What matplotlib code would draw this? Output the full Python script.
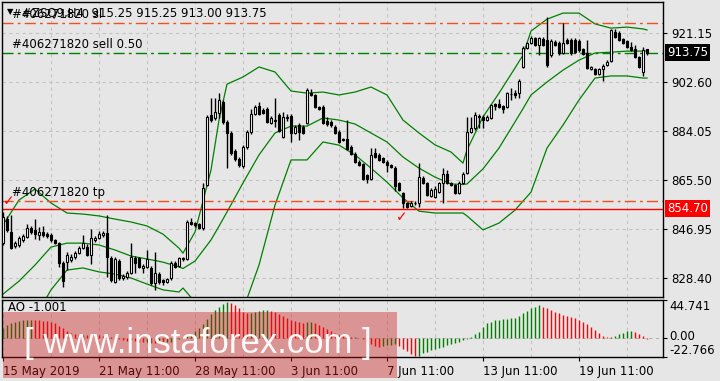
import matplotlib
matplotlib.use("Agg")
import matplotlib.pyplot as plt
from matplotlib.patches import Rectangle
import numpy as np

# #ZSQ9 H4 candles (15 May - 21 Jun 2019)
opens = [841.6, 850.7, 845.8, 840.5, 840.8, 842.8, 843.9, 847.3, 846.5, 844.8,
         845.8, 845.0, 844.6, 842.8, 841.6, 834.0, 834.4, 835.2, 836.3, 837.8,
         839.7, 840.1, 837.1, 842.8, 843.5, 844.6, 845.4, 835.9, 826.9, 834.8,
         828.4, 828.8, 830.3, 835.9, 835.9, 832.1, 832.5, 832.1, 826.5, 829.9,
         827.6, 826.9, 828.4, 834.0, 832.9, 835.9, 835.5, 849.6, 849.2, 848.8,
         847.3, 863.6, 890.1, 889.0, 890.9, 895.0, 887.5, 883.3, 876.5, 873.4,
         870.8, 878.0, 883.7, 890.5, 893.5, 892.0, 892.4, 887.1, 888.2, 890.1,
         881.8, 889.4, 889.7, 883.3, 886.3, 885.6, 887.1, 898.4, 897.7, 893.1,
         893.1, 887.8, 887.5, 885.6, 883.7, 881.0, 881.0, 878.0, 875.3, 872.3,
         871.6, 867.4, 865.9, 875.7, 875.0, 873.8, 872.3, 871.2, 870.0, 864.4,
         860.6, 856.8, 855.7, 856.8, 856.8, 866.3, 864.4, 859.4, 859.1, 860.9,
         864.4, 867.8, 864.4, 863.6, 860.6, 864.4, 868.2, 883.7, 885.2, 889.7,
         889.4, 888.2, 889.0, 894.3, 894.3, 893.5, 893.1, 898.1, 898.4, 898.4,
         908.3, 915.5, 917.4, 919.3, 916.6, 918.9, 918.5, 912.8, 917.7, 917.4,
         913.6, 918.5, 918.5, 918.5, 918.1, 915.1, 913.6, 907.5, 907.5, 905.6,
         907.5, 909.0, 910.5, 921.5, 921.2, 918.9, 918.1, 915.8, 915.1, 912.1,
         906.4, 915.25]
highs = [853.4, 851.8, 852.2, 842.4, 844.3, 845.0, 848.8, 848.0, 850.7, 847.7,
         848.0, 845.8, 845.4, 843.1, 842.0, 834.8, 838.2, 837.5, 838.6, 840.5,
         844.6, 841.2, 846.9, 844.3, 846.2, 846.2, 852.2, 836.7, 836.3, 835.5,
         829.9, 831.0, 841.6, 836.7, 836.3, 833.6, 839.0, 832.9, 838.2, 830.6,
         828.0, 828.4, 834.8, 834.8, 836.3, 836.3, 850.3, 851.0, 849.6, 849.2,
         864.4, 890.1, 896.5, 896.5, 898.4, 895.8, 888.2, 884.1, 877.2, 874.2,
         878.8, 884.4, 892.4, 893.9, 895.0, 892.8, 893.1, 889.7, 896.5, 890.9,
         891.2, 890.5, 890.5, 886.3, 887.1, 886.3, 900.3, 900.0, 898.1, 893.5,
         893.9, 889.4, 888.2, 886.3, 884.4, 881.4, 888.2, 878.8, 876.1, 873.1,
         871.9, 867.8, 877.6, 877.6, 875.7, 874.2, 873.1, 871.6, 870.8, 864.7,
         861.0, 857.2, 857.5, 857.5, 871.9, 867.0, 864.7, 862.5, 863.2, 864.7,
         870.0, 869.3, 864.7, 864.0, 865.1, 868.5, 889.4, 889.4, 891.2, 890.5,
         890.1, 890.1, 894.3, 894.7, 896.2, 893.9, 898.8, 900.3, 899.6, 903.7,
         916.2, 917.7, 920.0, 919.6, 919.6, 919.6, 927.2, 918.9, 918.5, 918.1,
         924.9, 919.3, 919.3, 919.3, 918.9, 915.5, 918.5, 908.7, 907.9, 907.9,
         909.4, 910.9, 922.7, 922.7, 921.9, 919.3, 918.5, 917.7, 916.6, 912.4,
         915.8, 915.25]
lows = [840.8, 845.8, 839.3, 839.7, 840.1, 842.0, 843.5, 845.0, 843.1, 842.8,
        844.0, 843.5, 842.0, 841.2, 832.5, 825.0, 831.4, 834.4, 835.5, 837.5,
        839.3, 836.7, 833.6, 842.0, 843.1, 844.0, 828.8, 826.9, 826.5, 827.6,
        827.6, 828.0, 829.9, 830.3, 832.1, 830.3, 832.1, 825.7, 823.9, 826.1,
        825.7, 826.5, 827.6, 832.1, 832.5, 834.8, 835.1, 848.4, 847.7, 846.9,
        846.5, 863.2, 887.5, 888.2, 889.0, 886.7, 870.0, 875.0, 872.7, 870.4,
        870.0, 877.2, 882.9, 890.1, 890.1, 890.5, 887.1, 886.7, 885.6, 883.7,
        881.4, 887.8, 879.9, 882.9, 880.6, 882.9, 886.7, 897.3, 892.8, 892.0,
        886.7, 885.9, 885.6, 882.9, 879.5, 880.3, 876.9, 875.0, 871.9, 870.8,
        865.5, 864.4, 865.5, 873.8, 872.7, 871.9, 868.5, 870.0, 861.3, 861.3,
        854.9, 854.9, 855.3, 856.0, 855.3, 864.0, 859.4, 859.1, 858.7, 860.6,
        856.8, 864.0, 863.2, 860.2, 860.2, 864.0, 867.8, 883.3, 884.4, 885.2,
        885.2, 887.8, 888.6, 892.0, 892.8, 890.9, 892.8, 895.8, 896.5, 896.5,
        907.9, 915.1, 917.0, 916.2, 912.8, 916.2, 908.3, 912.1, 916.2, 912.8,
        913.2, 917.0, 912.8, 913.6, 914.0, 912.8, 907.5, 907.1, 905.3, 905.3,
        903.0, 908.7, 910.2, 919.3, 918.1, 917.0, 915.5, 914.3, 911.7, 907.9,
        904.9, 913.00]
closes = [851.4, 846.5, 839.7, 841.6, 843.5, 844.3, 847.3, 845.8, 845.0, 845.8,
          844.6, 844.3, 842.8, 841.6, 834.0, 827.2, 837.1, 836.3, 837.8, 839.7,
          841.6, 837.1, 843.5, 843.5, 845.0, 845.4, 836.3, 827.6, 835.5, 828.4,
          829.1, 830.3, 836.3, 834.0, 832.5, 832.9, 835.5, 826.5, 830.3, 826.9,
          826.9, 828.0, 834.0, 832.5, 835.9, 835.5, 849.6, 848.8, 848.4, 847.3,
          862.5, 889.4, 888.2, 891.2, 895.8, 887.5, 883.3, 875.7, 873.4, 871.2,
          878.0, 883.7, 890.5, 893.1, 890.5, 890.9, 887.5, 889.0, 888.0, 884.1,
          889.4, 889.0, 883.3, 885.6, 883.7, 883.3, 899.6, 897.7, 893.1, 892.4,
          887.1, 886.7, 886.3, 883.3, 879.9, 880.6, 877.2, 875.3, 872.3, 871.2,
          865.9, 865.9, 875.0, 874.2, 873.1, 872.3, 871.2, 870.4, 863.2, 861.7,
          856.8, 855.3, 856.8, 856.9, 866.6, 864.4, 859.8, 861.7, 862.1, 864.4,
          867.8, 864.4, 863.6, 860.6, 864.4, 867.8, 883.7, 885.2, 890.1, 889.4,
          888.2, 889.4, 893.9, 893.5, 893.1, 892.4, 898.4, 898.0, 897.7, 903.0,
          915.5, 917.4, 919.3, 916.6, 919.3, 916.6, 909.0, 918.1, 916.6, 913.6,
          917.4, 917.4, 913.6, 914.0, 914.7, 913.2, 907.9, 908.3, 905.6, 907.5,
          908.7, 910.2, 922.3, 919.6, 918.5, 917.4, 915.8, 914.7, 912.1, 908.3,
          914.7, 913.75]

# Bollinger bands, sampled along the bars
band_idx = [0, 4, 8, 12, 16, 20, 24, 28, 32, 36, 40, 44, 45, 48, 52, 54, 56, 60,
            64, 68, 72, 76, 80, 84, 88, 92, 96, 100, 104, 108, 112, 115, 116, 120,
            124, 128, 130, 132, 136, 140, 144, 148, 152, 156, 160, 161]
band_upper = [848.5, 857.9, 862.1, 856.8, 853.0, 852.6, 851.9, 850.7, 849.6, 848.1,
              845.0, 839.7, 837.8, 845.8, 869.3, 888.2, 901.8, 904.5, 908.3, 906.4,
              899.2, 898.4, 898.8, 897.7, 898.8, 900.7, 897.7, 888.2, 883.3, 878.8,
              876.1, 871.9, 876.9, 889.4, 898.4, 907.9, 912.8, 921.9, 926.4, 928.7,
              928.7, 924.6, 923.0, 923.4, 922.7, 922.3]
band_middle = [822.3, 827.2, 833.3, 840.1, 841.6, 841.6, 840.9, 839.0, 836.7, 835.6,
               834.4, 832.6, 832.0, 834.8, 842.8, 848.0, 853.4, 864.4, 875.0, 883.3,
               885.9, 885.9, 889.0, 888.2, 886.7, 883.3, 879.9, 874.2, 870.0, 866.6,
               864.0, 863.8, 864.0, 869.7, 877.6, 887.5, 892.5, 897.7, 902.6, 907.1,
               910.9, 913.6, 913.9, 914.3, 914.3, 914.3]
band_lower = [795.5, 803.0, 813.3, 823.9, 831.4, 832.2, 830.7, 829.9, 828.4, 826.1,
              823.9, 823.1, 824.6, 819.3, 810.6, 809.0, 808.7, 816.3, 833.3, 856.0,
              873.1, 873.1, 879.9, 878.7, 875.0, 870.0, 864.7, 858.7, 853.7, 853.0,
              853.0, 853.0, 851.9, 846.6, 849.2, 854.1, 857.5, 860.9, 877.6, 886.3,
              895.8, 904.1, 904.9, 904.9, 904.1, 904.1]

# Awesome Oscillator
ao = [12, 15, 17, 18.5, 19.5, 20.5, 21, 21.5, 21, 20.5,
      20, 19.5, 18.5, 17, 14.5, 11.5, 8.5, 6, 4.5, 4,
      3.5, 3.4, 3.8, 3.6, 3.2, 2.5, 1.5, 0.5, -0.5, -1.5,
      -2.5, -3.5, -3, -4, -5, -5.5, -5, -6, -6.5, -6,
      -6.5, -5.5, -4.5, -3.5, -2, -0.5, 2, 5, 8, 11,
      16, 22, 28, 33, 37, 40, 42, 41.5, 39, 35,
      31, 29, 29.5, 31, 32, 32.5, 32.8, 32, 30, 28,
      25.5, 23, 21, 19.5, 18.5, 18, 18.5, 19, 17.5, 15.5,
      12.5, 10, 7.5, 5.5, 3.5, 2, 1, 0.5, 0.8, 0.2,
      -2, -4.5, -7, -9.5, -11, -10, -9, -8, -7.5, -10,
      -13, -16, -19.5, -22, -21, -18.5, -16.5, -15, -13.5, -12,
      -10.5, -9, -7.5, -6, -4.5, -3, -1.5, 0.5, 4, 7,
      13, 17, 19, 20.5, 21.5, 22, 22.5, 23.5, 24, 26,
      29.5, 32, 35, 37, 38.5, 37, 35, 33, 31, 29,
      27.5, 26, 24.5, 23, 21.5, 19, 16, 13, 9.5, 6,
      2.5, 1.5, 1, 2, 4, 6, 8, 8.5, 6.5, 4,
      2, -1.001]
ao_max, ao_min = 44.741, -22.766

price_ticks = [828.40, 846.95, 865.50, 884.05, 902.60, 921.15]
date_idx = [0, 24, 48, 72, 96, 120, 144]
date_labels = ["15 May 2019", "21 May 11:00", "28 May 11:00", "3 Jun 11:00",
               "7 Jun 11:00", "13 Jun 11:00", "19 Jun 11:00"]

symbol = "#ZSQ9,H4"
order_id = "#406271820"
sl_price, entry_price, tp_price = 924.8, 913.5, 857.5
alert_price = 854.70
check_idx = [1.5, 99.8]
check_price = [857.6, 851.6]

BG = "#e6e6e6"
GRID = "#c3c3c3"
GREEN = "#008000"
ORANGE = "#f0501e"

plt.rcParams["font.family"] = ["DejaVu Sans"]
plt.rcParams["font.size"] = 8

W, H = 720, 381
fig = plt.figure(figsize=(W / 100, H / 100), dpi=100, facecolor=BG)
ax = fig.add_axes([2 / W, 1 - 297 / H, 661 / W, 295 / H], facecolor=BG)
ax2 = fig.add_axes([2 / W, 1 - 357 / H, 661 / W, 57 / H], facecolor=BG)

x = np.arange(len(closes))
o = np.array(opens)
c = np.array(closes)
up = c >= o

# candles
ax.vlines(x, lows, highs, color="black", lw=1, zorder=3)
body = np.maximum(np.abs(c - o), 0.12)
ax.bar(x[up], body[up], bottom=o[up], width=0.55, color="white",
       edgecolor="black", lw=0.8, zorder=4)
ax.bar(x[~up], body[~up], bottom=c[~up], width=0.55, color="black",
       edgecolor="black", lw=0.8, zorder=4)

# bands
for band in (band_upper, band_middle, band_lower):
    ax.plot(band_idx, band, color=GREEN, lw=0.9, zorder=2)

# order lines
dashdot = (0, (8, 3, 2, 3))
ax.axhline(sl_price, color=ORANGE, lw=1, ls=dashdot, zorder=2)
ax.axhline(tp_price, color=ORANGE, lw=1, ls=dashdot, zorder=2)
ax.axhline(entry_price, color=GREEN, lw=1, ls=dashdot, zorder=2)
ax.axhline(alert_price, color="#ff0000", lw=1, zorder=2)
for price, label in [(sl_price, order_id + " sl"),
                     (entry_price, order_id + " sell 0.50"),
                     (tp_price, order_id + " tp")]:
    ax.annotate(label, xy=(0, price), xycoords=("axes fraction", "data"),
                xytext=(10, 2), textcoords="offset pixels", va="bottom",
                ha="left", fontsize=8.5, color="black", zorder=6)
for i, p in zip(check_idx, check_price):
    ax.text(i, p, "\u2713", color="red", fontsize=10, fontweight="bold",
            ha="center", va="center", zorder=6)

ax.text(5 / 661, 1 - 10 / 295, "\u25bc", transform=ax.transAxes, fontsize=6,
        va="center", ha="left")
ax.text(20 / 661, 1 - 11 / 295,
        f"{symbol}  {opens[-1]:.2f} {highs[-1]:.2f} {lows[-1]:.2f} {closes[-1]:.2f}",
        transform=ax.transAxes, fontsize=8.5, va="center", ha="left", zorder=6)

ax.set_xlim(-0.25, 165)
ax.set_ylim(821.2, 932.9)
ax.yaxis.tick_right()
ax.set_yticks(price_ticks)
ax.set_yticklabels([f"{p:.2f}" for p in price_ticks], fontsize=8.5)
ax.tick_params(axis="y", direction="out", length=3, width=0.8, pad=3)
ax.set_xticks(np.arange(12, 165, 12))
ax.tick_params(axis="x", length=0, labelbottom=False)
ax.grid(True, color=GRID, ls=(0, (3, 3)), lw=0.8)
ax.set_axisbelow(True)

# current price and alert labels on the price scale
for price, fc in [(closes[-1], "black"), (alert_price, "#ff0000")]:
    ax.annotate(f"{price:.2f}", xy=(1, price), xycoords=("axes fraction", "data"),
                xytext=(4, 0), textcoords="offset pixels", va="center", ha="left",
                color="white", fontsize=8.5, annotation_clip=False,
                bbox=dict(boxstyle="square,pad=0.2", fc=fc, ec="none"))

# AO pane
ao_arr = np.array(ao)
prev = np.concatenate([[ao_arr[0] - 1], ao_arr[:-1]])
colors = np.where(ao_arr > prev, GREEN, "#ff0000")
ax2.vlines(x, 0, ao_arr, colors=colors, lw=1, zorder=3)
ax2.axhline(0, color="#b4b4b4", ls=(0, (3, 3)), lw=0.8, zorder=1)
ax2.set_xlim(-0.25, 165)
ax2.set_ylim(ao_min, ao_max)
ax2.yaxis.tick_right()
ax2.set_yticks([ao_min, 0, ao_max])
ax2.set_yticklabels([])
ax2.tick_params(axis="y", direction="out", length=3, width=0.8)
for val, txt, dy in [(ao_max, f"{ao_max:.3f}", -7), (0, "0.00", 1),
                     (ao_min, f"{ao_min:.3f}", 7)]:
    ax2.annotate(txt, xy=(1, val), xycoords=("axes fraction", "data"),
                 xytext=(6, dy), textcoords="offset pixels", va="center",
                 ha="left", fontsize=8.5, annotation_clip=False)
ax2.set_xticks(date_idx)
ax2.set_xticklabels(date_labels, ha="left", fontsize=8.5)
ax2.set_xticks(np.arange(12, 165, 12), minor=True)
ax2.tick_params(axis="x", which="major", direction="out", length=3, pad=3)
ax2.tick_params(axis="x", which="minor", length=0)
ax2.grid(True, which="both", axis="x", color=GRID, ls=(0, (3, 3)), lw=0.8)
ax2.set_axisbelow(True)
ax2.text(6 / 661, 0.86, f"AO {ao[-1]:.3f}", transform=ax2.transAxes,
         fontsize=8.5, va="center", ha="left")

for a in (ax, ax2):
    for s in a.spines.values():
        s.set_color("black")
        s.set_linewidth(1)

# watermark
fig.add_artist(Rectangle((3 / W, 1 - 378 / H), 394 / W, 66 / H,
                         transform=fig.transFigure, facecolor=(0.8, 0.1, 0.1),
                         alpha=0.4, edgecolor="none", zorder=10))
fig.text(24 / W, 1 - 353 / H, "[ www.instaforex.com ]", fontsize=25,
         family="Liberation Sans", color="white", alpha=0.95,
         va="baseline", ha="left", zorder=11)

fig.savefig("out.png", dpi=100, facecolor=BG)
